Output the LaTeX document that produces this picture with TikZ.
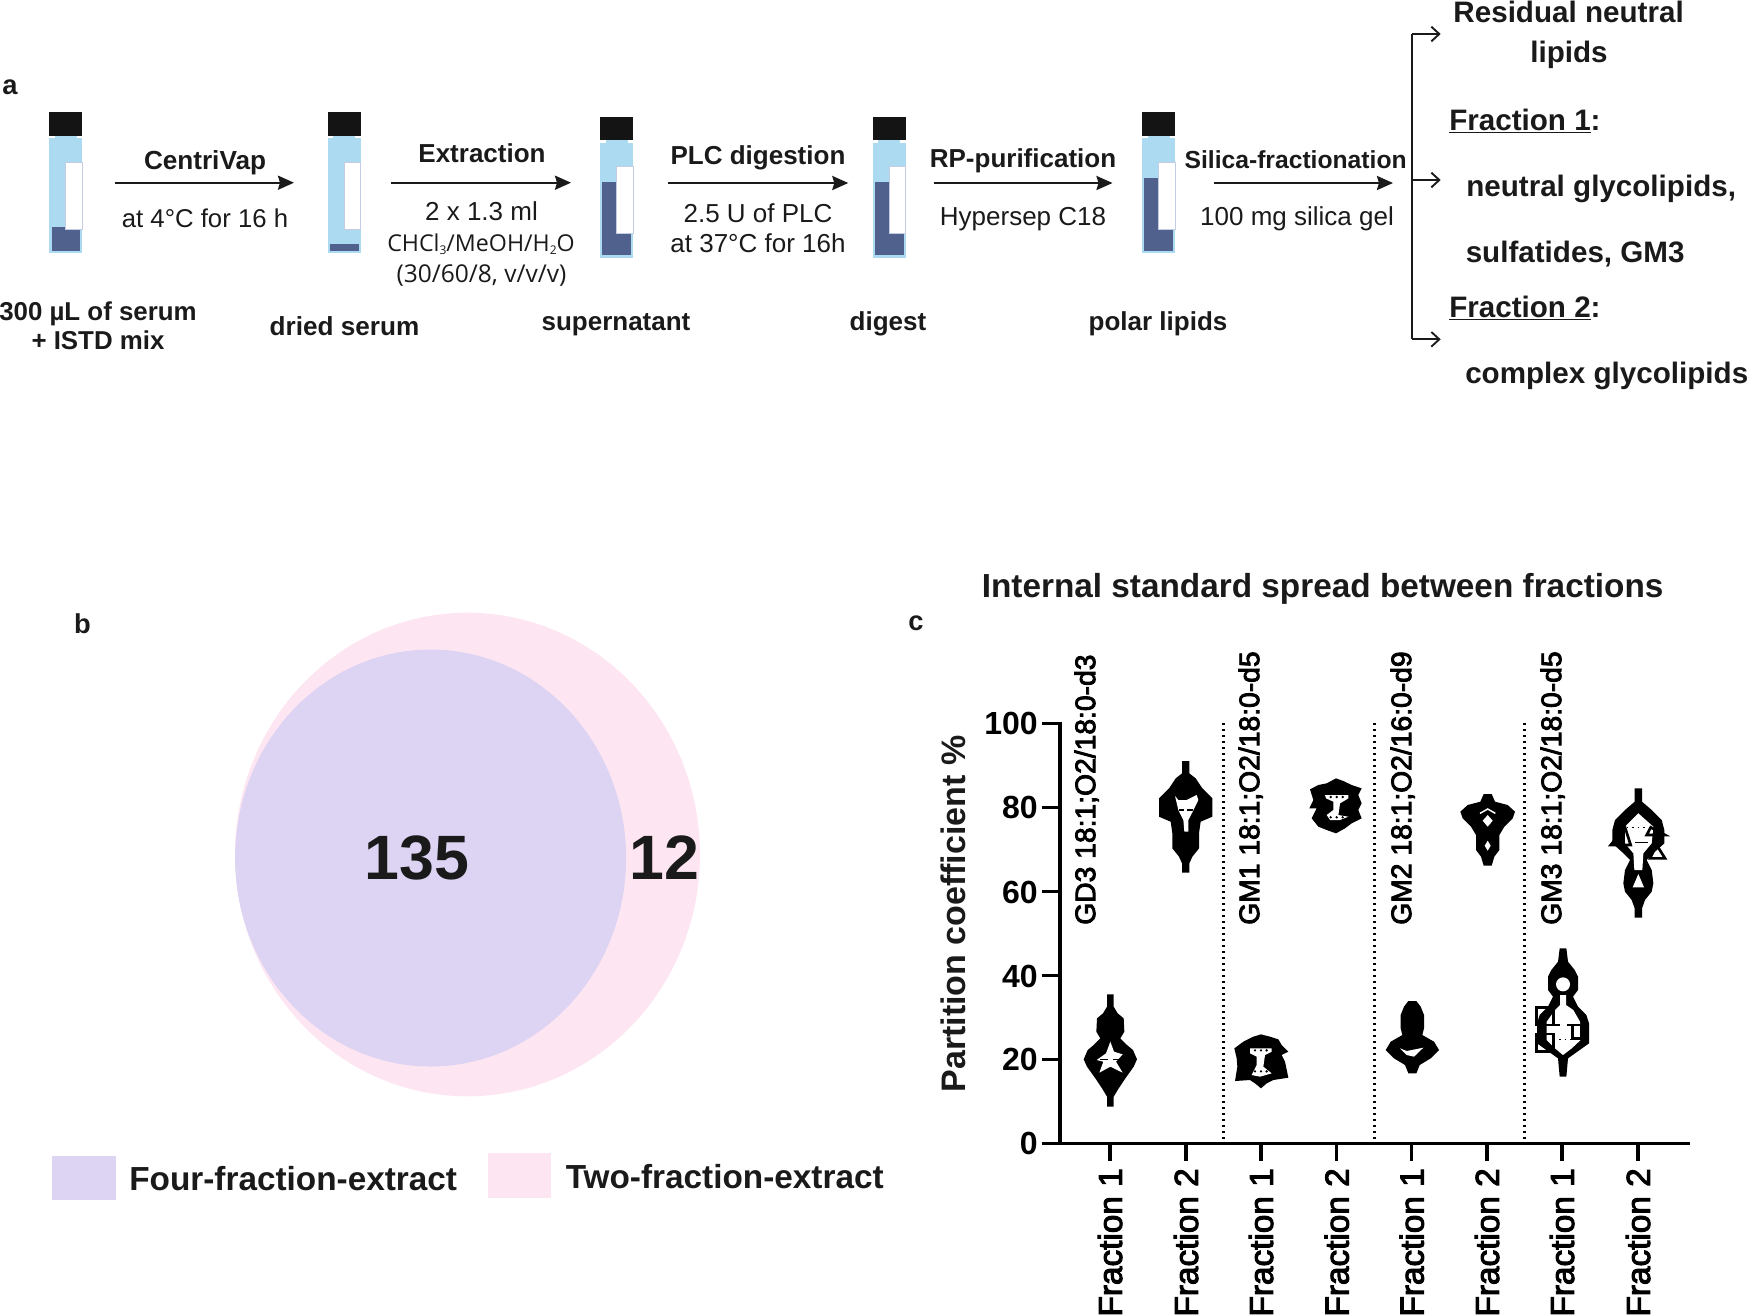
\documentclass[tikz,border=0pt]{standalone}
\usepackage{fontspec}
\setmainfont{Liberation Sans}
\newfontfamily\opensans{Open Sans}
\newfontfamily\semib[FakeBold=3]{Liberation Sans}
\usetikzlibrary{arrows.meta}
\definecolor{vlight}{HTML}{ACDBF1}
\definecolor{vdark}{HTML}{4F618C}
\definecolor{vcap}{HTML}{141414}
\definecolor{vedge}{HTML}{C3CCE2}
\definecolor{vennpink}{HTML}{FDE6F2}
\definecolor{vennpurple}{HTML}{DDD3F3}
\definecolor{ink}{HTML}{1A1A1A}
\tikzset{
  Bd/.style={inner sep=0pt,text=ink,align=center,font=\fontsize{#1}{#1}\selectfont\bfseries,text height=0.716*#1pt,text depth=0pt},
  Rg/.style={inner sep=0pt,text=ink,align=center,font=\fontsize{#1}{#1}\selectfont,text height=0.716*#1pt,text depth=0pt},
  Md/.style={inner sep=0pt,text=black,align=center,font=\fontsize{#1}{#1}\selectfont\semib,text height=0.716*#1pt,text depth=0pt},
  Os/.style={inner sep=0pt,text=ink,align=center,font=\fontsize{#1}{#1}\selectfont\opensans,text height=0.716*#1pt,text depth=0pt},
  flow/.style={draw=ink,line width=1.8pt,-{Stealth[length=12pt,width=10.5pt,inset=1.5pt]}},
  branch/.style={draw=ink,line width=1.4pt,-{Straight Barb[length=6pt,width=11pt]}},
  axis/.style={draw=black,line width=2.3pt},
  sep/.style={draw=black,line width=2pt,dash pattern=on 1.6pt off 2.9pt},
  vio/.style={fill=black},
  hole/.style={fill=white},
  holeline/.style={draw=black,line width=2pt,fill=none},
}
\newcommand\vial[3]{%
  \begin{scope}[shift={(#1,#2)}]
    \fill[vcap] (0,0) rectangle (33,23.4);
    \fill[vlight] (5.5,23.4) rectangle (27.5,27);
    \fill[vlight] (0,26) rectangle (33,141);
    \fill[vdark] (2.3,#3) rectangle (31,138.7);
    \filldraw[fill=white,draw=vedge,line width=0.6pt] (16.4,50) rectangle (33,116.7);
  \end{scope}}
\newcommand\violin[3]{%
  \gdef\vioR{}\gdef\vioL{}%
  \foreach \yy/\ww in {#3}{\xdef\vioR{\vioR -- (#1+\ww,\yy)}\xdef\vioL{-- (#1-\ww,\yy) \vioL}}%
  \fill[vio] (#1,#2) \vioR \vioL -- cycle;}
\begin{document}
\begin{tikzpicture}[x=0.75pt,y=-0.75pt]
\useasboundingbox (0,0) rectangle (1747,1315);

% panel a
\node[Bd=20.5] (lbla) at (10,84.5) {a};
\vial{49.4}{112.3}{115}
\vial{327.6}{112.3}{131.7}
\vial{600}{116.7}{65.6}
\vial{872.5}{116.7}{65.6}
\vial{1142}{112.3}{65.4}

\coordinate (a1s) at (114.8,182.7); \coordinate (a1e) at (294,182.7);
\coordinate (a2s) at (391,182.7);   \coordinate (a2e) at (571,182.7);
\coordinate (a3s) at (668.3,183);   \coordinate (a3e) at (848.3,183);
\coordinate (a4s) at (933.7,183);   \coordinate (a4e) at (1112.5,183);
\coordinate (a5s) at (1214,183);    \coordinate (a5e) at (1393,183);
\draw[flow] (a1s) -- (a1e);
\draw[flow] (a2s) -- (a2e);
\draw[flow] (a3s) -- (a3e);
\draw[flow] (a4s) -- (a4e);
\draw[flow] (a5s) -- (a5e);

\node[Bd=19.6] (t1) at (205,159.7) {CentriVap};
\node[Rg=19.3] (t2) at (205,218.5) {at 4°C for 16 h};
\node[Bd=19.5] (t3) at (482,153) {Extraction};
\node[Rg=19.5] (t4) at (481.5,211.5) {2 x 1.3 ml};
\node[Os=17.4] (t5) at (481,242.7) {CHCl\raisebox{-0.3ex}{\fontsize{9}{9}\selectfont 3}/MeOH/H\raisebox{-0.3ex}{\fontsize{9}{9}\selectfont 2}O};
\node[Os=18.4] (t6) at (481.5,274) {(30/60/8, v/v/v)};
\node[Bd=19.4] (t7) at (98,311.7) {300 µL of serum};
\node[Bd=19.4] (t8) at (98,340) {+ ISTD mix};
\node[Bd=19.6] (t9) at (344.5,326) {dried serum};
\node[Bd=19.5] (t10) at (616,321.5) {supernatant};
\node[Bd=19.5] (t11) at (888,321.5) {digest};
\node[Bd=19.5] (t12) at (1158,321) {polar lipids};
\node[Bd=19.5] (t13) at (758,155) {PLC digestion};
\node[Rg=19.5] (t14) at (758,213) {2.5 U of PLC};
\node[Rg=19.5] (t15) at (758,243) {at 37°C for 16h};
\node[Bd=19.5] (t16) at (1023,158) {RP-purification};
\node[Rg=19.5] (t17) at (1023,216) {Hypersep C18};
\node[Bd=18.5] (t18) at (1295.6,159.5) {Silica-fractionation};
\node[Rg=19.5] (t19) at (1297,216) {100 mg silica gel};

\coordinate (bt) at (1412,34); \coordinate (bm) at (1412,180); \coordinate (bb) at (1412,339.3);
\coordinate (ot) at (1440.7,34); \coordinate (om) at (1440.7,180); \coordinate (ob) at (1440.7,339.3);
\draw[draw=ink,line width=1.4pt] (bt) -- (bb);
\draw[branch] (bt) -- (ot);
\draw[branch] (bm) -- (om);
\draw[branch] (bb) -- (ob);

\node[Bd=22.2] (r1) at (1568.6,11.7) {Residual neutral};
\node[Bd=22.2] (r2) at (1569,51.7) {lipids};
\node[Bd=22.2,anchor=west] (r3) at (1449,120) {\underline{Fraction 1}:};
\node[Bd=22.2,anchor=west] (r4) at (1466,186) {neutral glycolipids,};
\node[Bd=22.2,anchor=west] (r5) at (1465.5,251.7) {sulfatides, GM3};
\node[Bd=22.2,anchor=west] (r6) at (1449,306.7) {\underline{Fraction 2}:};
\node[Bd=22.2,anchor=west] (r7) at (1465,373) {complex glycolipids};

% panel b
\node[Bd=20.5] (lblb) at (82.5,624) {b};
\fill[vennpink] (467.5,854.5) ellipse [x radius=232.5,y radius=241.8];
\fill[vennpurple] (430.6,858) ellipse [x radius=195.5,y radius=208.5];
\node[Bd=47] (n135) at (416.7,857) {135};
\node[Bd=47] (n12) at (664,857) {12};
\fill[vennpurple] (52.4,1155.5) rectangle (115.9,1200);
\fill[vennpink] (488,1153) rectangle (551,1198);
\node[Bd=25,anchor=west] (leg1) at (129,1178.5) {Four-fraction-extract};
\node[Bd=25,anchor=west] (leg2) at (565.5,1176.6) {Two-fraction-extract};

% panel c
\node[Bd=25] (title) at (1322.6,586) {Internal standard spread between fractions};
\node[Bd=20.5] (lblc) at (916,620.6) {c};
\node[Bd=25.5,rotate=90] (ylab) at (953,914) {Partition coefficient \%};

\draw[axis] (1060,722.3) -- (1060,1143.4);
\draw[axis] (1042,1143.4) -- (1690,1143.4);
\foreach \yv/\lab in {723.3/100,807.3/80,891.7/60,975.7/40,1059.5/20}{
  \draw[axis] (1042,\yv) -- (1060,\yv);
  \node[Bd=24,anchor=east,text=black] at (1038,\yv) {\lab};
}
\node[Bd=24,anchor=east,text=black] (y0) at (1038,1143.4) {0};
\foreach \xv/\lab in {1110/1,1186/2,1261/1,1336.7/2,1411.7/1,1487/2,1562/1,1638/2}{
  \draw[axis] (\xv,1143.4) -- (\xv,1160.7);
  \node[Md=25,rotate=90,anchor=east] at (\xv,1168) {Fraction \lab};
}
\draw[sep] (1223.3,723) -- (1223.3,1142);
\draw[sep] (1374.3,723) -- (1374.3,1142);
\draw[sep] (1524.3,723) -- (1524.3,1142);

\node[Md=21.2,rotate=90,anchor=west] (g1) at (1085,925) {GD3 18:1;O2/18:0-d3};
\node[Md=21.2,rotate=90,anchor=west] (g2) at (1249,925) {GM1 18:1;O2/18:0-d5};
\node[Md=21.2,rotate=90,anchor=west] (g3) at (1401,925) {GM2 18:1;O2/16:0-d9};
\node[Md=21.2,rotate=90,anchor=west] (g4) at (1551,925) {GM3 18:1;O2/18:0-d5};

% violins, first two groups (coordinates in a 3x grid)
\begin{scope}[shift={(1040,720)},x=0.25pt,y=-0.25pt]
  \violin{211}{823}{823/10,860/10,880/22,895/40,935/42,955/30,975/50,990/68,1018/80,1040/70,1075/45,1105/25,1130/10,1160/10}
  \fill[hole] (211,965) -- (222,995) -- (248,1003) -- (228,1025) -- (248,1058) -- (211,1040) -- (178,1058) -- (190,1025) -- (170,1020) -- (198,1000) -- cycle;
  \draw[black,line width=1.2pt] (180,1018) -- (205,1018) (220,1018) -- (245,1018);

  \violin{437}{123}{123/11,160/11,175/30,205/50,235/80,290/80,305/45,340/40,385/40,410/20,430/11,458/11}
  \fill[hole] (405,228) -- (415,240) -- (440,240) -- (470,225) -- (475,240) -- (458,275) -- (445,300) -- (445,335) -- (433,335) -- (430,300) -- (415,270) -- cycle;
  \draw[black,line width=1.2pt] (418,270) -- (432,270) (442,270) -- (458,270);

  \fill[vio] (663,943) -- (690,950) -- (715,958) -- (725,975) -- (745,995) -- (725,1005) -- (735,1025) -- (745,1073) -- (700,1080) -- (680,1090) -- (663,1105) -- (645,1090) -- (630,1080) -- (585,1083) -- (592,1040) -- (590,1015) -- (583,985) -- (610,965) -- (640,950) -- cycle;
  \fill[hole] (630,985) -- (695,985) -- (695,995) -- (675,1005) -- (670,1040) -- (695,1060) -- (660,1070) -- (635,1065) -- (650,1035) -- (650,1010) -- (630,1000) -- cycle;
  \fill[black] (645,991) circle [radius=4] (663,991) circle [radius=4] (680,991) circle [radius=4] (645,1054) circle [radius=4] (663,1054) circle [radius=4] (680,1054) circle [radius=4];

  \fill[vio] (888,175) -- (910,183) -- (935,195) -- (965,205) -- (955,225) -- (965,250) -- (955,270) -- (965,295) -- (935,310) -- (915,325) -- (888,340) -- (860,330) -- (835,320) -- (815,295) -- (830,265) -- (808,265) -- (820,240) -- (810,208) -- (835,195) -- (860,190) -- cycle;
  \fill[hole] (855,225) -- (925,225) -- (925,235) -- (900,250) -- (895,285) -- (925,290) -- (900,300) -- (870,300) -- (860,285) -- (880,270) -- (880,245) -- (858,235) -- cycle;
  \fill[black] (872,231) circle [radius=4] (890,231) circle [radius=4] (908,231) circle [radius=4] (872,292) circle [radius=4] (890,292) circle [radius=4] (908,292) circle [radius=4];
\end{scope}

% violins, last two groups
\begin{scope}[shift={(1360,720)},x=0.25pt,y=-0.25pt]
  \violin{157}{843}{843/12,860/25,885/35,925/35,945/30,965/65,990/80,1015/55,1035/22,1060/12}
  \fill[hole] (120,985) -- (140,993) -- (155,990) -- (190,983) -- (162,1010) -- (140,1005) -- cycle;

  \violin{383}{222}{222/12,245/22,255/60,275/82,295/75,320/50,345/35,390/35,410/20,437/12}
  \fill[hole] (383,285) -- (398,302) -- (383,320) -- (368,302) -- cycle;
  \fill[hole] (383,362) -- (392,377) -- (383,392) -- (374,377) -- cycle;
  \draw[white,line width=1.1pt] (360,280) -- (383,267) -- (406,280);

  \violin{609}{685}{685/10,725/15,750/35,770/45,810/45,830/30,860/45,885/70,910/78,970/78,990/50,1015/15,1070/10}
  \fill[hole] (609,793) circle [radius=21];
  \fill[hole] (600,825) -- (618,825) -- (618,855) -- (640,870) -- (660,905) -- (662,960) -- (635,985) -- (609,1005) -- (585,985) -- (560,960) -- (560,905) -- (585,870) -- (600,855) -- cycle;
  \draw[holeline] (529,862) rectangle (580,915);
  \draw[holeline] (529,942) rectangle (580,995);
  \draw[holeline] (638,915) rectangle (664,955);
  \draw[black,line width=1.2pt] (560,915) -- (600,915) (620,915) -- (650,915);
  \draw[black,line width=1.2pt,dash pattern=on 1.2pt off 3pt] (580,958) -- (640,958);

  \violin{835}{205}{205/11,245/11,270/40,300/70,330/78,370/78,395/50,420/25,450/40,490/45,515/40,540/20,565/11,593/11}
  \fill[hole] (835,280) -- (880,320) -- (875,370) -- (850,400) -- (847,450) -- (823,450) -- (820,400) -- (795,370) -- (795,320) -- cycle;
  \fill[hole] (835,462) -- (852,502) -- (818,502) -- cycle;
  \draw[holeline] (795,322) -- (752,375) -- (812,375) -- cycle;
  \draw[holeline] (872,322) -- (915,345) -- (860,345) -- cycle;
  \draw[holeline] (890,375) -- (915,415) -- (870,415) -- cycle;
  \draw[black,line width=1.2pt,dash pattern=on 1.2pt off 3pt] (800,322) -- (870,322);
  \draw[black,line width=1.2pt] (825,368) -- (865,368);
\end{scope}
\end{tikzpicture}
\end{document}
